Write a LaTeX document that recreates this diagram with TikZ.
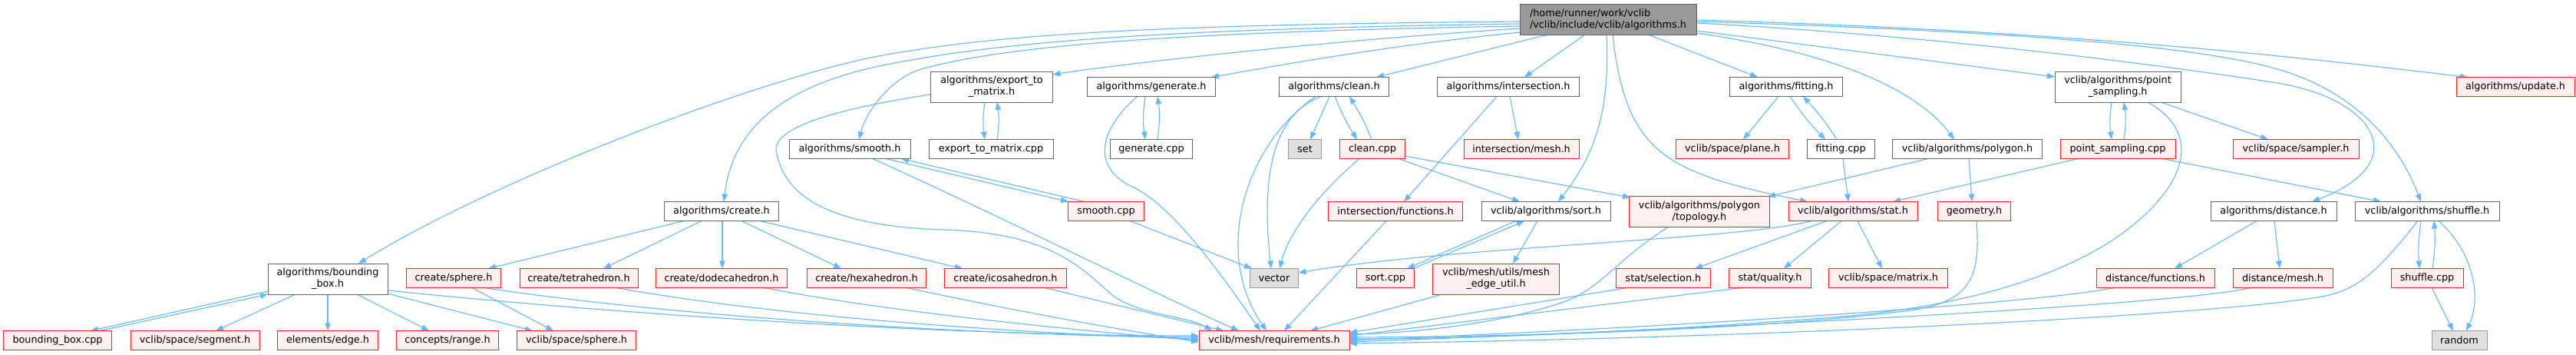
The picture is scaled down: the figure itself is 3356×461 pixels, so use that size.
\documentclass[tikz,border=0pt]{standalone}
\usepackage{fontspec}
\setmainfont{DejaVu Sans}
\usetikzlibrary{arrows.meta,backgrounds}
\definecolor{edgec}{HTML}{63B8FF}
\definecolor{redb}{HTML}{FF2020}
\definecolor{redf}{HTML}{FFF0F0}
\definecolor{grayb}{HTML}{999999}
\definecolor{grayf}{HTML}{E0E0E0}
\definecolor{boxb}{HTML}{666666}
\definecolor{rootf}{HTML}{999999}
\begin{document}
\begin{tikzpicture}[x=1pt,y=-1pt,
  bx/.style={draw, line width=1pt, inner sep=0pt, minimum height=25pt, font=\fontsize{12.8}{15}\selectfont, text=black},
  wb/.style={bx, draw=boxb, fill=white},
  rb/.style={bx, draw=redb, fill=redf},
  gb/.style={bx, draw=grayb, fill=grayf},
  rt/.style={bx, draw=boxb, fill=rootf, minimum height=40pt, align=left},
  two/.style={minimum height=40pt, align=center},
  dep/.style={draw=edgec, line width=1.1pt, -{Triangle[length=10pt,width=7.5pt]}}
]
\useasboundingbox (0,0) rectangle (3356,461);
% root
\node[rt, minimum width=230pt] (root) at (2095,25) {/home/runner/work/vclib\\/vclib/include/vclib/algorithms.h};
% row 1
\node[wb, two, minimum width=159pt] (exm) at (1292,113) {algorithms/export\_to\\\_matrix.h};
\node[wb, minimum width=167pt] (gen) at (1500,113) {algorithms/generate.h};
\node[wb, minimum width=143pt] (cln) at (1738,113) {algorithms/clean.h};
\node[wb, minimum width=185pt] (ints) at (1965,113) {algorithms/intersection.h};
\node[wb, minimum width=147pt] (fit) at (2327,113) {algorithms/fitting.h};
\node[wb, two, minimum width=164pt] (psh) at (2759,113) {vclib/algorithms/point\\\_sampling.h};
\node[rb, minimum width=154pt] (upd) at (3277,113) {algorithms/update.h};
% row 2
\node[wb, minimum width=158pt] (smh) at (1107,194) {algorithms/smooth.h};
\node[wb, minimum width=162pt] (exmc) at (1291,194) {export\_to\_matrix.cpp};
\node[wb, minimum width=107pt] (genc) at (1500,194) {generate.cpp};
\node[gb, minimum width=43pt] (set) at (1700,194) {set};
\node[rb, minimum width=85pt] (clnc) at (1788,194) {clean.cpp};
\node[rb, minimum width=150pt] (intm) at (1982,194) {intersection/mesh.h};
\node[rb, minimum width=147pt] (plane) at (2257,194) {vclib/space/plane.h};
\node[wb, minimum width=88pt] (fitc) at (2398,194) {fitting.cpp};
\node[wb, minimum width=195pt] (poly) at (2563,194) {vclib/algorithms/polygon.h};
\node[rb, minimum width=150pt] (psc) at (2759,194) {point\_sampling.cpp};
\node[rb, minimum width=164pt] (samp) at (2991,194) {vclib/space/sampler.h};
% row 3
\node[wb, minimum width=149pt] (crt) at (940,275) {algorithms/create.h};
\node[rb, minimum width=99pt] (smc) at (1441,275) {smooth.cpp};
\node[rb, minimum width=175pt] (intf) at (1818,275) {intersection/functions.h};
\node[wb, minimum width=168pt] (sorth) at (2014,275) {vclib/algorithms/sort.h};
\node[rb, two, minimum width=183pt] (topo) at (2214,275) {vclib/algorithms/polygon\\/topology.h};
\node[rb, minimum width=168pt] (stat) at (2414,275) {vclib/algorithms/stat.h};
\node[rb, minimum width=95pt] (geom) at (2572,275) {geometry.h};
\node[wb, minimum width=164pt] (dist) at (2962,275) {algorithms/distance.h};
\node[wb, minimum width=188pt] (shuf) at (3162,275) {vclib/algorithms/shuffle.h};
% row 4
\node[wb, two, minimum width=156pt] (bbox) at (427,363) {algorithms/bounding\\\_box.h};
\node[rb, minimum width=123pt] (csph) at (591,362) {create/sphere.h};
\node[rb, minimum width=154pt] (tet) at (754,362) {create/tetrahedron.h};
\node[rb, minimum width=171pt] (dod) at (940,362) {create/dodecahedron.h};
\node[rb, minimum width=155pt] (hex) at (1129,362) {create/hexahedron.h};
\node[rb, minimum width=159pt] (ico) at (1310,362) {create/icosahedron.h};
\node[gb, minimum width=63pt] (vec) at (1660,362) {vector};
\node[rb, minimum width=75pt] (sortc) at (1805,362) {sort.cpp};
\node[rb, two, minimum width=165pt] (meu) at (1949,363) {vclib/mesh/utils/mesh\\\_edge\_util.h};
\node[rb, minimum width=123pt] (sel) at (2167,362) {stat/selection.h};
\node[rb, minimum width=107pt] (qual) at (2306,362) {stat/quality.h};
\node[rb, minimum width=155pt] (mat) at (2460,362) {vclib/space/matrix.h};
\node[rb, minimum width=154pt] (dfun) at (2808,362) {distance/functions.h};
\node[rb, minimum width=130pt] (dmesh) at (2974,362) {distance/mesh.h};
\node[rb, minimum width=94pt] (shc) at (3162,362) {shuffle.cpp};
% row 5
\node[rb, minimum width=141pt] (bbc) at (75,443) {bounding\_box.cpp};
\node[rb, minimum width=168pt] (seg) at (254,443) {vclib/space/segment.h};
\node[rb, minimum width=131pt] (edge) at (427,443) {elements/edge.h};
\node[rb, minimum width=133pt] (range) at (583,443) {concepts/range.h};
\node[rb, minimum width=155pt] (ssph) at (751,443) {vclib/space/sphere.h};
\node[rb, minimum width=196pt] (req) at (1660,443) {vclib/mesh/requirements.h};
\node[gb, minimum width=72pt] (rnd) at (3204,443) {random};

\begin{pgfonlayer}{background}
\fill[white] (0,0) rectangle (3356,461);
% root edges
\draw[dep] ([shift={(-115,3)}]root.center) .. controls (1500,32) and (1300,45) .. (1150,72) .. controls (1000,99) and (650,230) .. ([shift={(40,-20)}]bbox.center);
\draw[dep] ([shift={(-115,6)}]root.center) .. controls (1500,38) and (1300,55) .. (1150,85) .. controls (1030,110) and (955,160) .. ([shift={(3,-12.5)}]crt.center);
\draw[dep] ([shift={(-115,9)}]root.center) .. controls (1500,42) and (1300,62) .. (1200,90) .. controls (1165,100) and (1130,140) .. ([shift={(12,-12.5)}]smh.center);
\draw[dep] ([shift={(-115,12)}]root.center) .. controls (1700,55) and (1450,85) .. ([shift={(79.5,-16)}]exm.center);
\draw[dep] ([shift={(-115,17)}]root.center) .. controls (1800,60) and (1650,88) .. ([shift={(78,-12.5)}]gen.center);
\draw[dep] ([shift={(-78,20)}]root.center) -- ([shift={(55,-12.5)}]cln.center);
\draw[dep] ([shift={(-30,20)}]root.center) -- ([shift={(21,-12.5)}]ints.center);
\draw[dep] ([shift={(-2,20)}]root.center) .. controls (2098,150) and (2075,205) .. ([shift={(16,-12.5)}]sorth.center);
\draw[dep] ([shift={(6,20)}]root.center) .. controls (2118,200) and (2170,225) .. ([shift={(-59,-12.5)}]stat.center);
\draw[dep] ([shift={(52,20)}]root.center) -- ([shift={(-37,-12.5)}]fit.center);
\draw[dep] ([shift={(115,18)}]root.center) .. controls (2400,70) and (2500,120) .. ([shift={(-17,-12.5)}]poly.center);
\draw[dep] ([shift={(115,15)}]root.center) -- ([shift={(-82,-13)}]psh.center);
\draw[dep] ([shift={(115,5)}]root.center) .. controls (2500,45) and (2800,82) .. (2960,107) .. controls (3090,125) and (3150,210) .. ([shift={(50,-12.5)}]dist.center);
\draw[dep] ([shift={(115,3)}]root.center) .. controls (2600,40) and (2850,58) .. (2960,88) .. controls (3080,120) and (3130,200) .. ([shift={(-8,-12.5)}]shuf.center);
\draw[dep] ([shift={(115,1)}]root.center) .. controls (2700,40) and (3000,75) .. ([shift={(-62,-12.5)}]upd.center);
% export / generate
\draw[dep] ([shift={(-80,10)}]exm.center) .. controls (1100,140) and (1000,165) .. (1012,200) .. controls (1025,265) and (1100,295) .. (1230,299) .. controls (1370,303) and (1410,350) .. (1450,385) .. controls (1490,412) and (1545,410) .. ([shift={(-81,-12.5)}]req.center);
\draw[dep] ([shift={(-9,20)}]exm.center) to[bend right=8] ([shift={(-8,-12.5)}]exmc.center);
\draw[dep] ([shift={(8,-12.5)}]exmc.center) to[bend right=8] ([shift={(7,20)}]exm.center);
\draw[dep] ([shift={(-18,12.5)}]gen.center) .. controls (1440,160) and (1415,215) .. (1475,243) .. controls (1530,268) and (1600,370) .. ([shift={(-18,-12.5)}]req.center);
\draw[dep] ([shift={(-8,12.5)}]gen.center) to[bend right=8] ([shift={(-8,-12.5)}]genc.center);
\draw[dep] ([shift={(8,-12.5)}]genc.center) to[bend right=8] ([shift={(8,12.5)}]gen.center);
% clean
\draw[dep] ([shift={(-6,12.5)}]cln.center) -- ([shift={(7,-12.5)}]set.center);
\draw[dep] ([shift={(1,12.5)}]cln.center) to[bend right=5] ([shift={(-20,-12.5)}]clnc.center);
\draw[dep] ([shift={(-1,-12.5)}]clnc.center) to[bend right=5] ([shift={(20,12.5)}]cln.center);
\draw[dep] ([shift={(-16,12.5)}]cln.center) .. controls (1650,150) and (1645,250) .. ([shift={(-4,-12.5)}]vec.center);
\draw[dep] ([shift={(-24,12.5)}]cln.center) .. controls (1620,190) and (1580,330) .. ([shift={(-10,-12.5)}]req.center);
\draw[dep] ([shift={(-17,12.5)}]clnc.center) .. controls (1720,250) and (1680,300) .. ([shift={(7,-12.5)}]vec.center);
\draw[dep] ([shift={(34,12.5)}]clnc.center) -- ([shift={(-34,-12.5)}]sorth.center);
\draw[dep] ([shift={(42,9)}]clnc.center) -- ([shift={(-90,-18)}]topo.center);
% intersection
\draw[dep] ([shift={(2,12.5)}]ints.center) -- ([shift={(-4,-12.5)}]intm.center);
\draw[dep] ([shift={(-15,12.5)}]ints.center) -- ([shift={(11,-12.5)}]intf.center);
\draw[dep] ([shift={(-12,12.5)}]intf.center) -- ([shift={(13,-12.5)}]req.center);
% sort
\draw[dep] ([shift={(-39,12.5)}]sorth.center) -- ([shift={(28,-12.5)}]sortc.center);
\draw[dep] ([shift={(36,-12.5)}]sortc.center) -- ([shift={(-28,12.5)}]sorth.center);
\draw[dep] ([shift={(-11,12.5)}]sorth.center) -- ([shift={(22,-20)}]meu.center);
\draw[dep] ([shift={(-70,20)}]meu.center) -- ([shift={(47,-12.5)}]req.center);
% topology
\draw[dep] ([shift={(-40,20)}]topo.center) .. controls (2110,335) and (2085,375) .. (2040,392) .. controls (1960,420) and (1850,433) .. ([shift={(98,-8)}]req.center);
% stat
\draw[dep] ([shift={(-54,12.5)}]stat.center) .. controls (2270,312) and (1900,320) .. ([shift={(31.5,-7)}]vec.center);
\draw[dep] ([shift={(-34,12.5)}]stat.center) -- ([shift={(41,-12.5)}]sel.center);
\draw[dep] ([shift={(-15,12.5)}]stat.center) -- ([shift={(18,-12.5)}]qual.center);
\draw[dep] ([shift={(6,12.5)}]stat.center) -- ([shift={(-8,-12.5)}]mat.center);
\draw[dep] ([shift={(-47,12.5)}]sel.center) -- ([shift={(98,-10)}]req.center);
\draw[dep] ([shift={(-37,12.5)}]qual.center) -- ([shift={(98,-6)}]req.center);
% fitting
\draw[dep] ([shift={(-10,12.5)}]fit.center) -- ([shift={(14,-12.5)}]plane.center);
\draw[dep] ([shift={(5,12.5)}]fit.center) to[bend right=5] ([shift={(-20,-12.5)}]fitc.center);
\draw[dep] ([shift={(-5,-12.5)}]fitc.center) to[bend right=5] ([shift={(22,12.5)}]fit.center);
\draw[dep] ([shift={(3,12.5)}]fitc.center) -- ([shift={(-6,-12.5)}]stat.center);
% polygon
\draw[dep] ([shift={(-51,12.5)}]poly.center) -- ([shift={(89,-19)}]topo.center);
\draw[dep] ([shift={(2,12.5)}]poly.center) -- ([shift={(-3,-12.5)}]geom.center);
\draw[dep] ([shift={(3,12.5)}]geom.center) .. controls (2580,360) and (2570,395) .. (2480,405) .. controls (2300,428) and (2000,438) .. ([shift={(98,-4)}]req.center);
% point sampling
\draw[dep] ([shift={(-8,20)}]psh.center) to[bend right=8] ([shift={(-8,-12.5)}]psc.center);
\draw[dep] ([shift={(8,-12.5)}]psc.center) to[bend right=8] ([shift={(8,20)}]psh.center);
\draw[dep] ([shift={(56,20)}]psh.center) -- ([shift={(-36,-12.5)}]samp.center);
\draw[dep] ([shift={(39,20)}]psh.center) .. controls (2865,170) and (2855,235) .. (2770,300) .. controls (2690,360) and (2560,398) .. (2400,412) .. controls (2200,428) and (1950,441) .. ([shift={(98,-2)}]req.center);
\draw[dep] ([shift={(-52,12.5)}]psc.center) -- ([shift={(52,-12.5)}]stat.center);
\draw[dep] ([shift={(58,12.5)}]psc.center) -- ([shift={(-60,-12.5)}]shuf.center);
% distance
\draw[dep] ([shift={(-22,12.5)}]dist.center) -- ([shift={(25,-12.5)}]dfun.center);
\draw[dep] ([shift={(1,12.5)}]dist.center) -- ([shift={(-4,-12.5)}]dmesh.center);
\draw[dep] ([shift={(-53,12.5)}]dfun.center) .. controls (2650,395) and (2200,425) .. ([shift={(98,0)}]req.center);
\draw[dep] ([shift={(-42,12.5)}]dmesh.center) .. controls (2850,395) and (2300,425) .. ([shift={(98,2)}]req.center);
% shuffle
\draw[dep] ([shift={(-8,12.5)}]shuf.center) to[bend right=6] ([shift={(-10,-12.5)}]shc.center);
\draw[dep] ([shift={(7,-12.5)}]shc.center) to[bend right=6] ([shift={(9,12.5)}]shuf.center);
\draw[dep] ([shift={(15,12.5)}]shuf.center) .. controls (3225,330) and (3232,390) .. ([shift={(9,-12.5)}]rnd.center);
\draw[dep] ([shift={(6,12.5)}]shc.center) -- ([shift={(-8,-12.5)}]rnd.center);
\draw[dep] ([shift={(-12,12.5)}]shuf.center) .. controls (3100,350) and (3075,375) .. (3030,385) .. controls (2900,410) and (2300,440) .. ([shift={(98,4)}]req.center);
% smooth
\draw[dep] ([shift={(47,12.5)}]smh.center) -- ([shift={(-49,-12.5)}]smc.center);
\draw[dep] ([shift={(-28,-12.5)}]smc.center) -- ([shift={(67,12.5)}]smh.center);
\draw[dep] ([shift={(30,12.5)}]smh.center) .. controls (1300,280) and (1500,380) .. ([shift={(-46,-12.5)}]req.center);
\draw[dep] ([shift={(31,12.5)}]smc.center) -- ([shift={(-29,-12.5)}]vec.center);
% bounding box
\draw[dep] ([shift={(-78,16)}]bbox.center) -- ([shift={(43,-12.5)}]bbc.center);
\draw[dep] ([shift={(55,-12.5)}]bbc.center) -- ([shift={(-78,20)}]bbox.center);
\draw[dep] ([shift={(-42,20)}]bbox.center) -- ([shift={(27,-12.5)}]seg.center);
\draw[dep] ([shift={(0,20)}]bbox.center) -- ([shift={(0,-12.5)}]edge.center);
\draw[dep] ([shift={(38,20)}]bbox.center) -- ([shift={(-24,-12.5)}]range.center);
\draw[dep] ([shift={(78,19)}]bbox.center) -- ([shift={(-57,-12.5)}]ssph.center);
\draw[dep] ([shift={(78,15)}]bbox.center) .. controls (900,418) and (1300,437) .. ([shift={(-98,-6)}]req.center);
% create
\draw[dep] ([shift={(-49,12.5)}]crt.center) -- ([shift={(45,-12.5)}]csph.center);
\draw[dep] ([shift={(-26,12.5)}]crt.center) -- ([shift={(32,-12.5)}]tet.center);
\draw[dep] ([shift={(1,12.5)}]crt.center) -- ([shift={(1,-12.5)}]dod.center);
\draw[dep] ([shift={(26,12.5)}]crt.center) -- ([shift={(-33,-12.5)}]hex.center);
\draw[dep] ([shift={(50,12.5)}]crt.center) -- ([shift={(-56,-12.5)}]ico.center);
\draw[dep] ([shift={(24,12.5)}]csph.center) -- ([shift={(-30,-12.5)}]ssph.center);
\draw[dep] ([shift={(40,12.5)}]csph.center) .. controls (900,415) and (1300,437) .. ([shift={(-98,-4)}]req.center);
\draw[dep] ([shift={(49,12.5)}]tet.center) .. controls (1000,410) and (1300,433) .. ([shift={(-98,-2)}]req.center);
\draw[dep] ([shift={(56,12.5)}]dod.center) .. controls (1150,405) and (1400,430) .. ([shift={(-98,0)}]req.center);
\draw[dep] ([shift={(52,12.5)}]hex.center) .. controls (1300,400) and (1450,428) .. ([shift={(-98,2)}]req.center);
\draw[dep] ([shift={(51,12.5)}]ico.center) -- ([shift={(-66,-12.5)}]req.center);
\end{pgfonlayer}
\end{tikzpicture}
\end{document}
